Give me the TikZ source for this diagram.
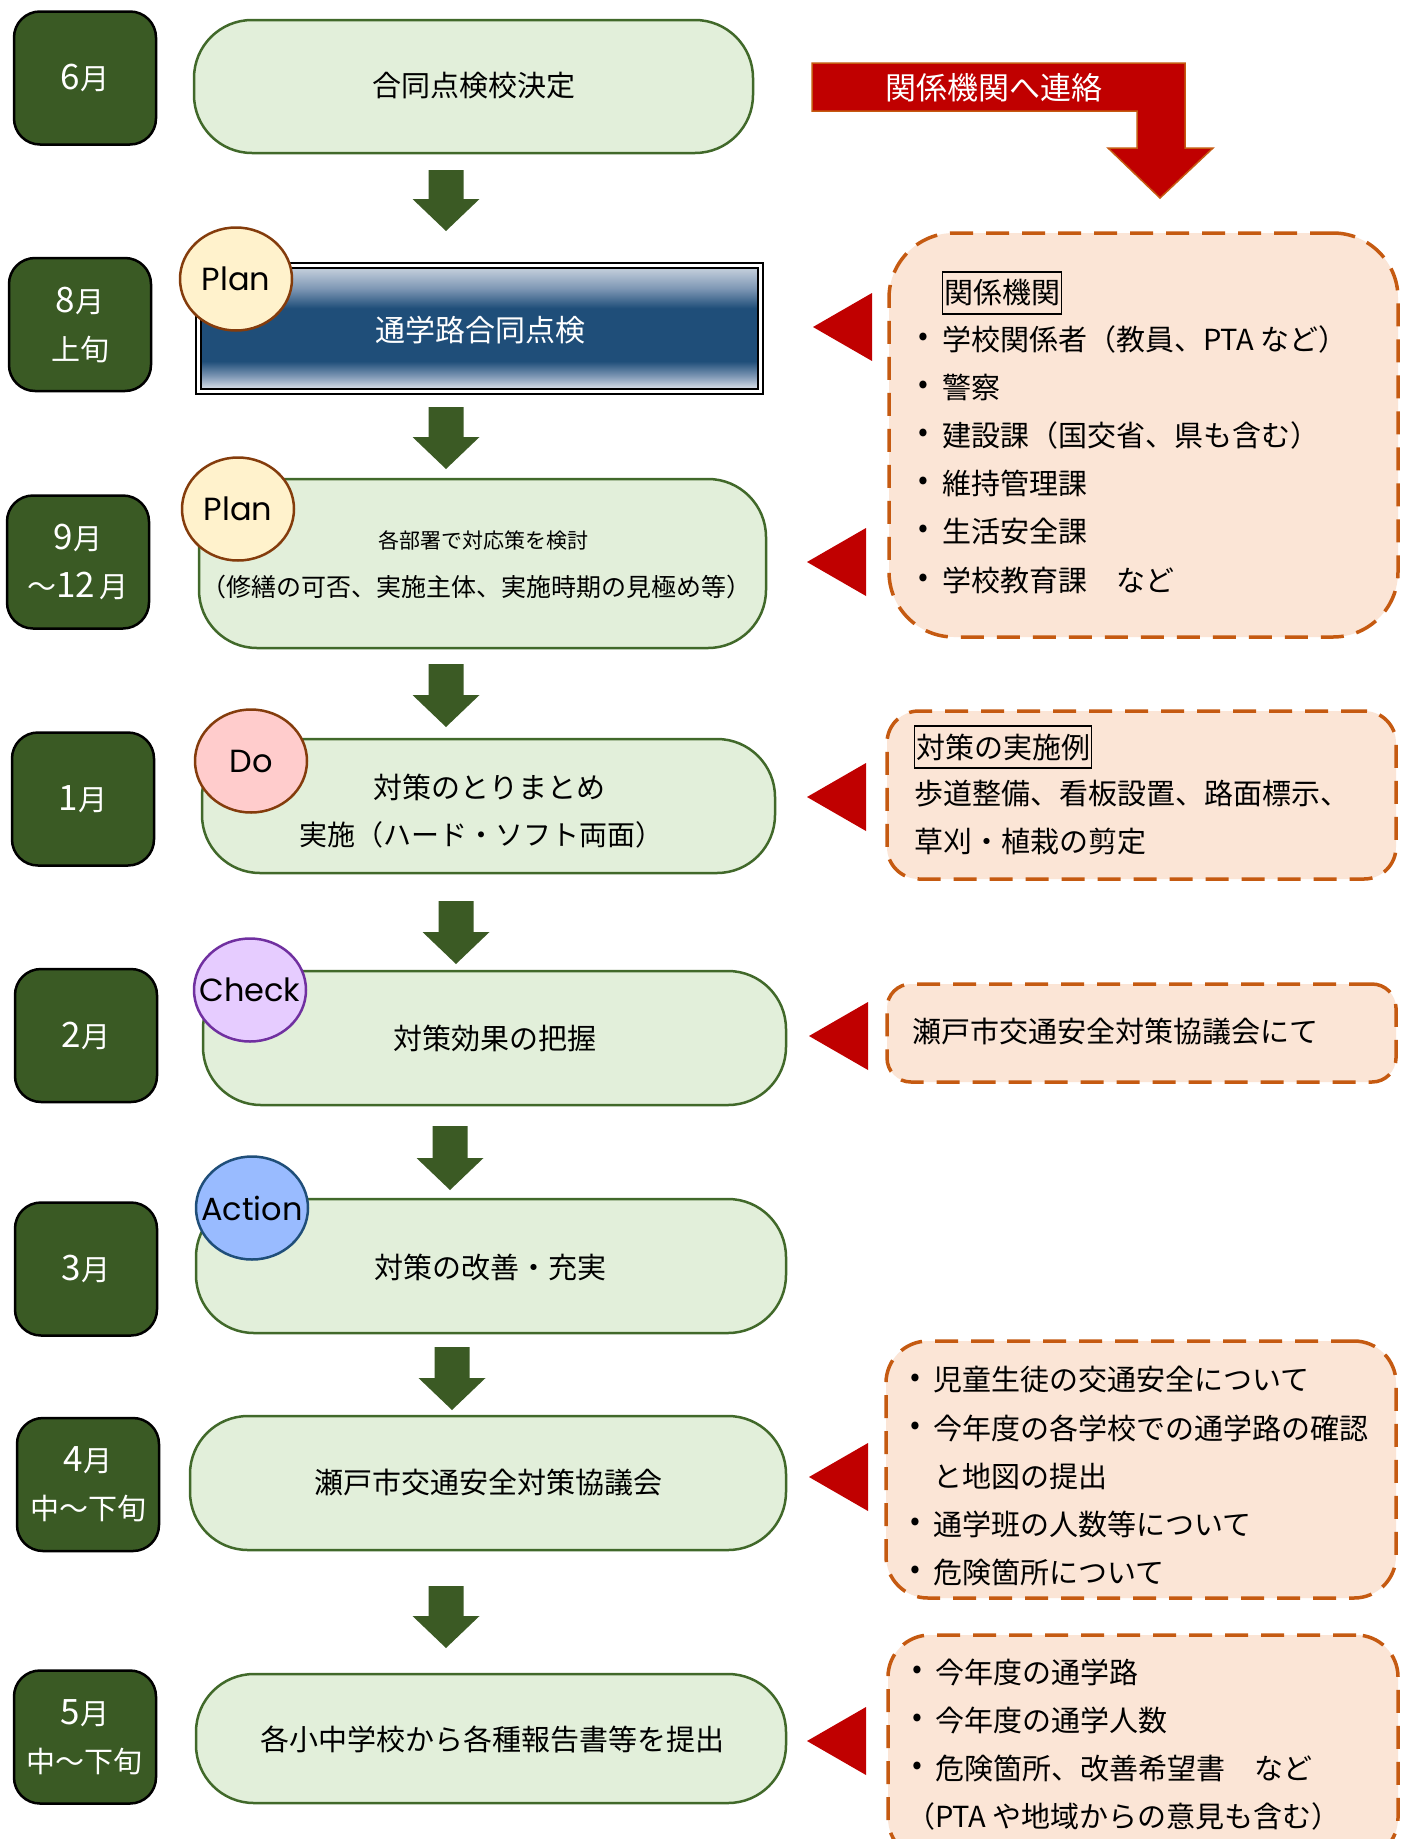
\documentclass[tikz,border=0pt]{standalone}
\usepackage{fontspec}
\setmainfont{Noto Sans CJK JP}
\newfontfamily\latinf{Poppins}
\usetikzlibrary{shapes.geometric,calc}
\definecolor{mgreen}{HTML}{3A5A24}
\definecolor{agreen}{HTML}{3B5A24}
\definecolor{lgreen}{HTML}{E2EFDA}
\definecolor{bgreen}{HTML}{41692A}
\definecolor{peach}{HTML}{FBE5D6}
\definecolor{orng}{HTML}{C55A11}
\definecolor{rred}{HTML}{C00000}
\definecolor{planfill}{HTML}{FFF2CC}
\definecolor{brownln}{HTML}{843C0C}
\definecolor{dofill}{HTML}{FFCCCC}
\definecolor{chkfill}{HTML}{E6CCFF}
\definecolor{chkln}{HTML}{7030A0}
\definecolor{actfill}{HTML}{99BBFF}
\definecolor{actln}{HTML}{1F4E79}
\definecolor{btop}{HTML}{CDD6E1}
\definecolor{bmid}{HTML}{7F98B5}
\definecolor{bdark}{HTML}{1F4E79}
\definecolor{bbot}{HTML}{EEF1F5}
\pgfdeclareverticalshading{blueband}{100bp}{color(0bp)=(bbot); color(25bp)=(bbot); color(31bp)=(bmid); color(37bp)=(bdark); color(58bp)=(bdark); color(66bp)=(bmid); color(75bp)=(btop); color(100bp)=(btop)}
\newcommand\garrow[2]{%
  \fill[agreen] ($(#1)+(-17.5,0)$) -- ($(#1)+(17.5,0)$) -- ($(#2)+(17.5,-32)$) -- ($(#2)+(33.5,-32)$) -- (#2) -- ($(#2)+(-33.5,-32)$) -- ($(#2)+(-17.5,-32)$) -- cycle;}
\newcommand\rtri[1]{\fill[rred] (#1) -- ++(59,-34) -- ++(0,68) -- cycle;}
\newcommand\dg[1]{{\fontsize{35}{35}\selectfont #1}}
\newcommand\pl[1]{\makebox[0pt][c]{#1}}
\begin{document}
\begin{tikzpicture}[x=1pt,y=-1pt,
  month/.style={draw=black, line width=2.5pt, fill=mgreen, rounded corners=26pt,
    minimum width=142pt, minimum height=133pt, inner sep=0pt, text=white, align=center,
    font=\fontsize{29}{48}\selectfont},
  mainbox/.style={draw=bgreen, line width=2.5pt, fill=lgreen, rounded corners=58pt, inner sep=0pt},
  txt/.style={inner sep=0pt, font=\fontsize{29}{29}\selectfont},
  pdca/.style={ellipse, line width=2.5pt, minimum width=112pt, minimum height=103pt, inner sep=0pt,
    font=\latinf\fontsize{32}{32}\selectfont},
  dbox/.style={draw=orng, fill=peach, line width=3.5pt, dash pattern=on 23pt off 13pt, inner sep=0pt},
  nt/.style={anchor=west, inner sep=0pt, font=\fontsize{29}{29}\selectfont},
  bul/.style={inner sep=0pt, font=\fontsize{29}{29}\selectfont},
  hd/.style={anchor=west, draw=black, line width=1.3pt, inner xsep=1.5pt, inner ysep=0pt,
    minimum height=42pt, font=\fontsize{29}{29}\selectfont}
]
\useasboundingbox (0,0) rectangle (1402,1839);
\clip (0,0) rectangle (1402,1839);
\fill[white] (0,0) rectangle (1402,1839);

% month boxes
\node[month] (m1) at (85,78) {\dg{6}月};
\node[month] (m2) at (80,324.5) {\dg{8}月\\上旬};
\node[month] (m3) at (78,562) {\dg{9}月\\～\dg{12}\,月};
\node[month] (m4) at (83,799) {\dg{1}月};
\node[month] (m5) at (86,1035.5) {\dg{2}月};
\node[month] (m6) at (86,1269) {\dg{3}月};
\node[month] (m7) at (88,1484.5) {\dg{4}月\\中～下旬};
\node[month] (m8) at (85,1737) {\dg{5}月\\中～下旬};

% main boxes
\node[mainbox, minimum width=559pt, minimum height=133pt] (b1) at (473.5,86.5) {};
\node[txt] (t1) at (474,86) {\fontsize{29}{29}\selectfont 合同点検校決定};
\node[draw=black, line width=2.5pt, double=white, double distance=2.5pt, shading=blueband,
  minimum width=562pt, minimum height=126pt, inner sep=0pt] (b2) at (479.5,328.5) {};
\node[txt, text=white] (t2) at (480,330) {\fontsize{30}{30}\selectfont 通学路合同点検};
\node[mainbox, minimum width=567pt, minimum height=169pt] (b3) at (482.5,563.5) {};
\node[txt] (t3a) at (483,540) {\fontsize{21}{21}\selectfont 各部署で対応策を検討};
\node[txt] (t3b) at (476,587) {\fontsize{25}{25}\selectfont （修繕の可否、実施主体、実施時期の見極め等）};
\node[mainbox, minimum width=573pt, minimum height=134pt] (b4) at (488.5,806) {};
\node[txt] (t4a) at (489,787) {対策のとりまとめ};
\node[txt] (t4b) at (481,835) {\fontsize{28}{28}\selectfont 実施（ハード・ソフト両面）};
\node[mainbox, minimum width=583pt, minimum height=134pt] (b5) at (494.5,1038) {};
\node[txt] (t5) at (495,1038) {対策効果の把握};
\node[mainbox, minimum width=590pt, minimum height=134pt] (b6) at (491,1266) {};
\node[txt] (t6) at (490,1267) {対策の改善・充実};
\node[mainbox, minimum width=596pt, minimum height=134pt] (b7) at (488,1483) {};
\node[txt] (t7) at (488,1483) {瀬戸市交通安全対策協議会};
\node[mainbox, minimum width=590pt, minimum height=129pt] (b8) at (491,1738.5) {};
\node[txt] (t8) at (492,1739) {各小中学校から各種報告書等を提出};

% PDCA circles
\node[pdca, fill=planfill, draw=brownln] (p1) at (236,279) {\pl{Plan}};
\node[pdca, fill=planfill, draw=brownln] (p2) at (238,509) {\pl{Plan}};
\node[pdca, fill=dofill, draw=brownln] (p3) at (251,761) {\pl{Do}};
\node[pdca, fill=chkfill, draw=chkln] (p4) at (250,990) {\pl{Check}};
\node[pdca, fill=actfill, draw=actln] (p5) at (252,1208) {\pl{Action}};

% green arrows
\coordinate (a1s) at (446,170); \coordinate (a1e) at (446,231);
\coordinate (a2s) at (446,407); \coordinate (a2e) at (446,469);
\coordinate (a3s) at (446,664); \coordinate (a3e) at (446,727);
\coordinate (a4s) at (456,901); \coordinate (a4e) at (456,964);
\coordinate (a5s) at (450,1126); \coordinate (a5e) at (450,1190);
\coordinate (a6s) at (452,1347); \coordinate (a6e) at (452,1410);
\coordinate (a7s) at (446,1586); \coordinate (a7e) at (446,1648);
\garrow{a1s}{a1e}
\garrow{a2s}{a2e}
\garrow{a3s}{a3e}
\garrow{a4s}{a4e}
\garrow{a5s}{a5e}
\garrow{a6s}{a6e}
\garrow{a7s}{a7e}

% red bent arrow
\filldraw[fill=rred, draw=orng, line width=1.5pt]
  (812,63) -- (1185,63) -- (1185,148) -- (1213,148) -- (1160,198) -- (1108,148)
  -- (1137,148) -- (1137,111) -- (812,111) -- cycle;
\node[txt, text=white] (rl) at (994,88) {\fontsize{31}{31}\selectfont 関係機関へ連絡};

% dashed boxes
\node[dbox, rounded corners=65pt, minimum width=509pt, minimum height=404pt] (d1) at (1143.5,435) {};
\node[dbox, rounded corners=32pt, minimum width=509pt, minimum height=168pt] (d2) at (1141.5,795) {};
\node[dbox, rounded corners=24pt, minimum width=509pt, minimum height=98pt] (d3) at (1141.5,1033) {};
\node[dbox, rounded corners=42pt, minimum width=510pt, minimum height=257pt] (d4) at (1141,1469.5) {};
\node[dbox, rounded corners=42pt, minimum width=510pt, minimum height=225pt] (d5) at (1143,1747.5) {};

% red triangles
\coordinate (r1) at (813,327);
\coordinate (r2) at (807,562);
\coordinate (r3) at (807,797);
\coordinate (r4) at (809,1036);
\coordinate (r5) at (809,1477);
\coordinate (r6) at (807,1741);
\rtri{r1}
\rtri{r2}
\rtri{r3}
\rtri{r4}
\rtri{r5}
\rtri{r6}

% box 1 text
\node[hd] (k0) at (942,293) {関係機関};
\node[bul] (k1b) at (923,339) {•}; \node[nt] (k1) at (942,339) {学校関係者（教員、PTA など）};
\node[bul] (k2b) at (923,387) {•}; \node[nt] (k2) at (942,387) {警察};
\node[bul] (k3b) at (923,435) {•}; \node[nt] (k3) at (942,435) {建設課（国交省、県も含む）};
\node[bul] (k4b) at (923,483) {•}; \node[nt] (k4) at (942,483) {維持管理課};
\node[bul] (k5b) at (923,531) {•}; \node[nt] (k5) at (942,531) {生活安全課};
\node[bul] (k6b) at (923,580) {•}; \node[nt] (k6) at (942,580) {学校教育課　など};

% box 2 text
\node[hd] (e0) at (914,747) {対策の実施例};
\node[nt] (e1) at (914,794) {歩道整備、看板設置、路面標示、};
\node[nt] (e2) at (914,842) {草刈・植栽の剪定};

% box 3 text
\node[nt] (f1) at (912,1032) {瀬戸市交通安全対策協議会にて};

% box 4 text
\node[bul] (g1b) at (915,1380) {•}; \node[nt] (g1) at (933,1380) {児童生徒の交通安全について};
\node[bul] (g2b) at (915,1428) {•}; \node[nt] (g2) at (933,1428) {今年度の各学校での通学路の確認};
\node[nt] (g3) at (933,1476) {と地図の提出};
\node[bul] (g4b) at (915,1524) {•}; \node[nt] (g4) at (933,1524) {通学班の人数等について};
\node[bul] (g5b) at (915,1572) {•}; \node[nt] (g5) at (933,1572) {危険箇所について};

% box 5 text
\node[bul] (h1b) at (917,1672) {•}; \node[nt] (h1) at (935,1672) {今年度の通学路};
\node[bul] (h2b) at (917,1720) {•}; \node[nt] (h2) at (935,1720) {今年度の通学人数};
\node[bul] (h3b) at (917,1768) {•}; \node[nt] (h3) at (935,1768) {危険箇所、改善希望書　など};
\node[nt] (h4) at (906,1816) {（PTA や地域からの意見も含む）};
\end{tikzpicture}
\end{document}
